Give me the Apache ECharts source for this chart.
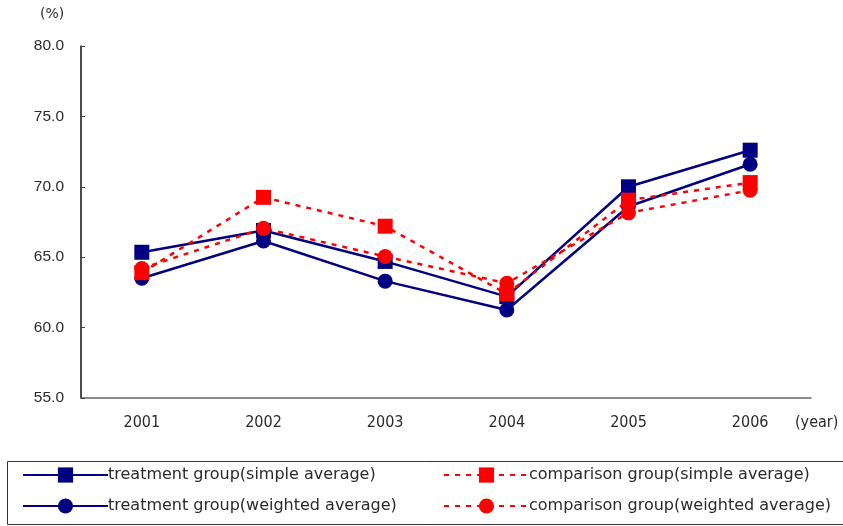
<!DOCTYPE html>
<html>
<head>
<meta charset="utf-8">
<script src="https://cdn.jsdelivr.net/npm/echarts@6/dist/echarts.min.js"></script>
<style>html,body{margin:0;padding:0;background:#fff}#c{width:843px;height:526px}</style>
</head>
<body>
<div id="c"></div>
<script>
const years = ['2001', '2002', '2003', '2004', '2005', '2006'];
const treatmentSimple = [65.35, 66.9, 64.7, 62.2, 70.0, 72.6];
const treatmentWeighted = [63.5, 66.15, 63.3, 61.25, 68.6, 71.6];
const comparisonSimple = [63.9, 69.25, 67.2, 62.4, 69.05, 70.3];
const comparisonWeighted = [64.2, 67.05, 65.05, 63.15, 68.15, 69.75];
const names = [
  'treatment group(simple average)',
  'treatment group(weighted average)',
  'comparison group(simple average)',
  'comparison group(weighted average)'
];
const FONT = 'DejaVu Sans';
const NARROW = '"Liberation Sans Narrow", "DejaVu Sans Condensed", "Liberation Sans"';
const TXT = '#2a2a2a';
const navy = '#000080', red = '#ff0000';

function mk(name, data, color, symbol, dashed) {
  return {
    name: name, type: 'line', data: data,
    symbol: symbol, symbolSize: 15,
    itemStyle: { color: color },
    lineStyle: { color: color, width: 2.5, type: dashed ? [5, 6] : 'solid' },
    emphasis: { disabled: true },
    animation: false
  };
}

const chart = echarts.init(document.getElementById('c'));
chart.setOption({
  backgroundColor: '#fff',
  textStyle: { fontFamily: FONT },
  grid: { left: 81, right: 32, top: 46, bottom: 128, outerBoundsMode: 'none', containLabel: false },
  xAxis: {
    type: 'category', data: years, boundaryGap: true,
    axisLine: { lineStyle: { color: '#666', width: 1.5 } },
    axisTick: { inside: true, length: 4, lineStyle: { color: '#444' } },
    axisLabel: { color: TXT, fontSize: 16, margin: 17, fontFamily: NARROW }
  },
  yAxis: {
    type: 'value', min: 55, max: 80, interval: 5,
    axisLine: { show: true, lineStyle: { color: '#111', width: 1.5 } },
    axisTick: { show: true, inside: true, length: 4, lineStyle: { color: '#444' } },
    splitLine: { show: false },
    axisLabel: { color: TXT, fontSize: 15.5, margin: 17, fontFamily: 'Liberation Sans', formatter: v => v.toFixed(1) }
  },
  legend: [
    {
      data: [names[0], names[1]], orient: 'vertical', left: 17, top: 462,
      itemWidth: 85, itemHeight: 19, itemGap: 15,
      textStyle: { color: TXT, fontSize: 16, fontFamily: FONT, padding: [0, 0, 0, -5] }
    },
    {
      data: [names[2], names[3]], orient: 'vertical', left: 438, top: 462,
      itemWidth: 85, itemHeight: 19, itemGap: 15,
      textStyle: { color: TXT, fontSize: 16, fontFamily: FONT, padding: [0, 0, 0, -5] }
    }
  ],
  graphic: [
    { type: 'rect', shape: { x: 7.5, y: 461.5, width: 840, height: 63 },
      style: { fill: 'none', stroke: '#333', lineWidth: 1 }, silent: true, z: -1 },
    { type: 'text', left: 40, top: 7,
      style: { text: '(%)', fill: TXT, font: '14px "DejaVu Sans"' }, silent: true },
    { type: 'text', left: 795, top: 415,
      style: { text: '(year)', fill: TXT, font: '16px "Liberation Sans Narrow", "DejaVu Sans Condensed", "Liberation Sans"' }, silent: true }
  ],
  series: [
    mk(names[0], treatmentSimple, navy, 'rect', false),
    mk(names[1], treatmentWeighted, navy, 'circle', false),
    mk(names[2], comparisonSimple, red, 'rect', true),
    mk(names[3], comparisonWeighted, red, 'circle', true)
  ]
});
</script>
</body>
</html>
